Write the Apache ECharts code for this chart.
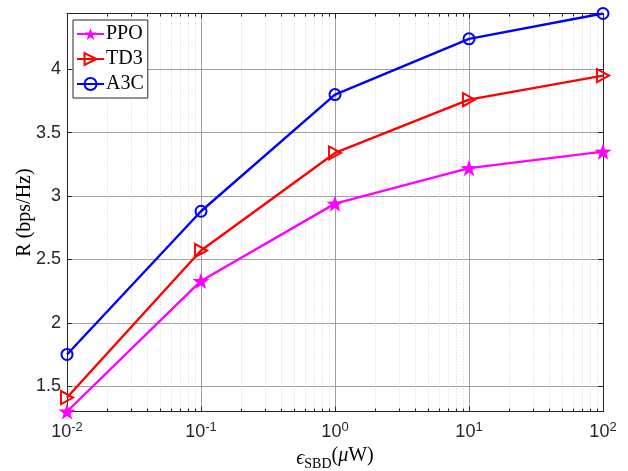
<!DOCTYPE html>
<html>
<head>
<meta charset="utf-8">
<script src="https://cdn.jsdelivr.net/npm/echarts@6/dist/echarts.min.js"></script>
<style>html,body{margin:0;padding:0;background:#fff;}#c{width:628px;height:471px;}</style>
</head>
<body>
<div id="c"></div>
<script>
// ---- data ----
const xValues = [0.01, 0.1, 1, 10, 100];
const ppo = [1.30, 2.33, 2.94, 3.22, 3.35];
const td3 = [1.41, 2.57, 3.34, 3.76, 3.95];
const a3c = [1.75, 2.88, 3.80, 4.24, 4.44];
const seriesNames = ['PPO', 'TD3', 'A3C'];
const xMajorTicks = [0.01, 0.1, 1, 10, 100];
const xMinorTicks = [];
[0.01, 0.1, 1, 10].forEach(d => { for (let k = 2; k <= 9; k++) xMinorTicks.push(+(d * k).toPrecision(3)); });
const yMin = 1.3, yMax = 4.44;

const STAR = 'path://M0,-10 L2.35,-3.24 L9.51,-3.09 L3.80,1.24 L5.88,8.09 L0,4 L-5.88,8.09 L-3.80,1.24 L-9.51,-3.09 L-2.35,-3.24 Z';
const AX = '#262626';

function pairs(ys) { return xValues.map((x, i) => [x, ys[i]]); }

const chart = echarts.init(document.getElementById('c'), null, { renderer: 'canvas' });

const baseX = {
  type: 'log', logBase: 10, min: 0.01, max: 100, gridIndex: 0
};

chart.setOption({
  animation: false,
  backgroundColor: '#fff',
  grid: { left: 67, right: 25, top: 13.5, bottom: 59.5, containLabel: false, outerBoundsMode: 'none' },
  legend: {
    orient: 'vertical', left: 73, top: 20,
    padding: [4, 4, 4, 3],
    itemWidth: 27, itemHeight: 15, itemGap: 5,
    backgroundColor: '#fff', borderColor: AX, borderWidth: 1,
    textStyle: { fontFamily: 'Liberation Serif', fontSize: 20, color: '#000', lineHeight: 20, padding: [0, 0, 0, -3] },
    data: seriesNames
  },
  xAxis: [
    Object.assign({}, baseX, {
      position: 'bottom',
      axisLine: { show: true, lineStyle: { color: AX, width: 1 } },
      axisTick: { show: true, inside: true, length: 5, lineStyle: { color: AX }, customValues: xMajorTicks },
      axisLabel: {
        customValues: xMajorTicks,
        margin: 9,
        formatter: function (v) { return '{b|10}{s|' + Math.round(Math.log10(v)) + '}'; },
        rich: {
          b: { fontFamily: 'Liberation Sans', fontSize: 18, color: AX },
          s: { fontFamily: 'Liberation Sans', fontSize: 13, color: AX, padding: [0, 0, 11, 0] }
        }
      },
      splitLine: { show: true, lineStyle: { color: '#a0a0a0', width: 1 } },
      name: '{e|ϵ}{sub|SBD}{n|(}{mu|μ}{n|W)}',
      nameLocation: 'middle', nameGap: 34, nameMoveOverlap: false,
      nameTextStyle: {
        rich: {
          e: { fontFamily: 'Liberation Serif', fontStyle: 'italic', fontSize: 20, color: '#000' },
          sub: { fontFamily: 'Liberation Serif', fontSize: 14, color: '#000', padding: [12, 0, 0, 0] },
          n: { fontFamily: 'Liberation Serif', fontSize: 20, color: '#000', padding: [0, 0, 6, 0] },
          mu: { fontFamily: 'Liberation Serif', fontStyle: 'italic', fontSize: 20, color: '#000', padding: [0, 0, 6, 0] }
        }
      }
    }),
    Object.assign({}, baseX, {
      position: 'bottom',
      axisLine: { show: false },
      axisTick: { show: true, inside: true, length: 3, lineStyle: { color: AX }, customValues: xMinorTicks },
      axisLabel: { show: false },
      splitLine: { show: true, lineStyle: { color: '#d4d4d4', width: 1, type: [1, 2] } }
    }),
    Object.assign({}, baseX, {
      position: 'top',
      axisLine: { show: true, lineStyle: { color: AX, width: 1 } },
      axisTick: { show: true, inside: true, length: 5, lineStyle: { color: AX }, customValues: xMajorTicks },
      axisLabel: { show: false },
      splitLine: { show: false }
    }),
    Object.assign({}, baseX, {
      position: 'top',
      axisLine: { show: false },
      axisTick: { show: true, inside: true, length: 3, lineStyle: { color: AX }, customValues: xMinorTicks },
      axisLabel: { show: false },
      splitLine: { show: false }
    })
  ],
  yAxis: [
    {
      type: 'value', min: yMin, max: yMax, position: 'left',
      axisLine: { show: true, lineStyle: { color: AX, width: 1 } },
      axisTick: { show: true, inside: true, length: 5, lineStyle: { color: AX } },
      axisLabel: { showMinLabel: false, showMaxLabel: false, margin: 6, fontFamily: 'Liberation Sans', fontSize: 18, color: AX },
      splitLine: { show: true, lineStyle: { color: '#a0a0a0', width: 1 } },
      name: 'R (bps/Hz)', nameLocation: 'middle', nameGap: 32, nameRotate: 90, nameMoveOverlap: false,
      nameTextStyle: { fontFamily: 'Liberation Serif', fontSize: 20, color: '#000' }
    },
    {
      type: 'value', min: yMin, max: yMax, position: 'right',
      axisLine: { show: true, lineStyle: { color: AX, width: 1 } },
      axisTick: { show: true, inside: true, length: 5, lineStyle: { color: AX } },
      axisLabel: { show: false },
      splitLine: { show: false }
    }
  ],
  series: [
    {
      name: 'PPO', type: 'line', xAxisIndex: 0, yAxisIndex: 0, data: pairs(ppo),
      symbol: STAR, symbolSize: 17, symbolKeepAspect: true,
      lineStyle: { color: '#ff00ff', width: 2.4 },
      itemStyle: { color: '#ff00ff' }, z: 3
    },
    {
      name: 'TD3', type: 'line', xAxisIndex: 0, yAxisIndex: 0, data: pairs(td3),
      symbol: 'triangle', symbolRotate: -90, symbolSize: [13, 12],
      lineStyle: { color: '#ff0000', width: 2.4 },
      itemStyle: { color: 'rgba(255,255,255,0)', borderColor: '#ff0000', borderWidth: 2 }, z: 4
    },
    {
      name: 'A3C', type: 'line', xAxisIndex: 0, yAxisIndex: 0, data: pairs(a3c),
      symbol: 'circle', symbolSize: 11,
      lineStyle: { color: '#0000ff', width: 2.4 },
      itemStyle: { color: 'rgba(255,255,255,0)', borderColor: '#0000ff', borderWidth: 2 }, z: 5
    }
  ]
});
</script>
</body>
</html>
